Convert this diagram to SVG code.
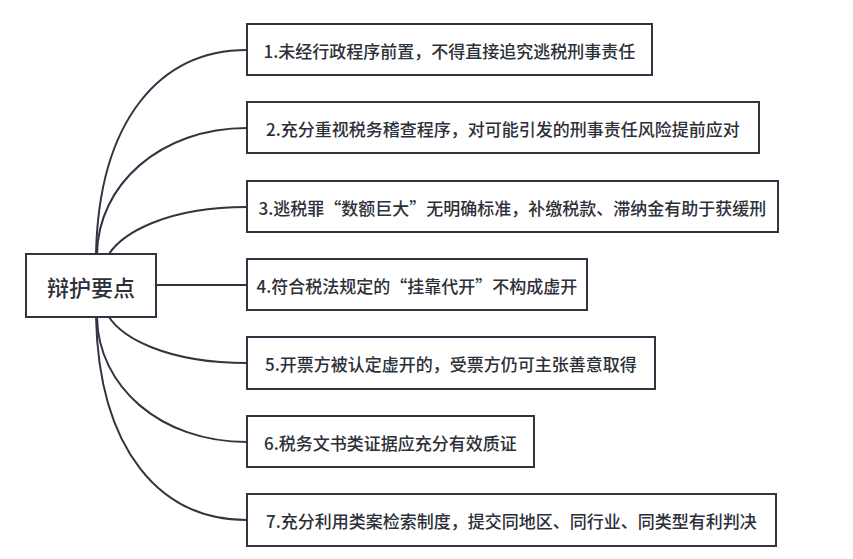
<svg xmlns="http://www.w3.org/2000/svg" width="853" height="559" viewBox="0 0 853 559">
<style>
.box{fill:#ffffff;stroke:#2f3541;stroke-width:2}
.edge{fill:none;stroke:#2f3541;stroke-width:2}
.t{font-family:"Noto Sans CJK SC","Noto Sans",sans-serif;font-size:17px;font-weight:500;fill:#2c3038;text-anchor:middle;dominant-baseline:central}
.c{font-size:22px}
</style>
<rect width="853" height="559" fill="#ffffff"/>
<g id="connectors">
<path class="edge" d="M96 254 C99 120 160 50 247 50"/>
<path class="edge" d="M97 254 C98 185 160 128 247 128"/>
<path class="edge" d="M109 254 C122 234 165 207 247 207"/>
<path class="edge" d="M156 285 L247 285"/>
<path class="edge" d="M109 317 C122 337 165 363 247 363"/>
<path class="edge" d="M97 317 C98 386 160 442 247 442"/>
<path class="edge" d="M96 317 C99 450 160 520 247 520"/>
</g>
<g id="center">
<rect class="box" x="26" y="254" width="130" height="63"/>
<text class="t c" x="91" y="286">辩护要点</text>
</g>
<g id="n1">
<rect class="box" x="247" y="24" width="405" height="51"/>
<text class="t" x="449.5" y="50">1.未经行政程序前置，不得直接追究逃税刑事责任</text>
</g>
<g id="n2">
<rect class="box" x="247" y="102" width="512" height="51"/>
<text class="t" x="503" y="128">2.充分重视税务稽查程序，对可能引发的刑事责任风险提前应对</text>
</g>
<g id="n3">
<rect class="box" x="247" y="181" width="531" height="51"/>
<text class="t" x="512.5" y="207">3.逃税罪“数额巨大”无明确标准，补缴税款、滞纳金有助于获缓刑</text>
</g>
<g id="n4">
<rect class="box" x="247" y="259" width="340" height="51"/>
<text class="t" x="417" y="285">4.符合税法规定的“挂靠代开”不构成虚开</text>
</g>
<g id="n5">
<rect class="box" x="247" y="337" width="408" height="52"/>
<text class="t" x="451" y="363">5.开票方被认定虚开的，受票方仍可主张善意取得</text>
</g>
<g id="n6">
<rect class="box" x="247" y="416" width="287" height="51"/>
<text class="t" x="390.5" y="442">6.税务文书类证据应充分有效质证</text>
</g>
<g id="n7">
<rect class="box" x="247" y="494" width="529" height="52"/>
<text class="t" x="511.5" y="520">7.充分利用类案检索制度，提交同地区、同行业、同类型有利判决</text>
</g>
</svg>
